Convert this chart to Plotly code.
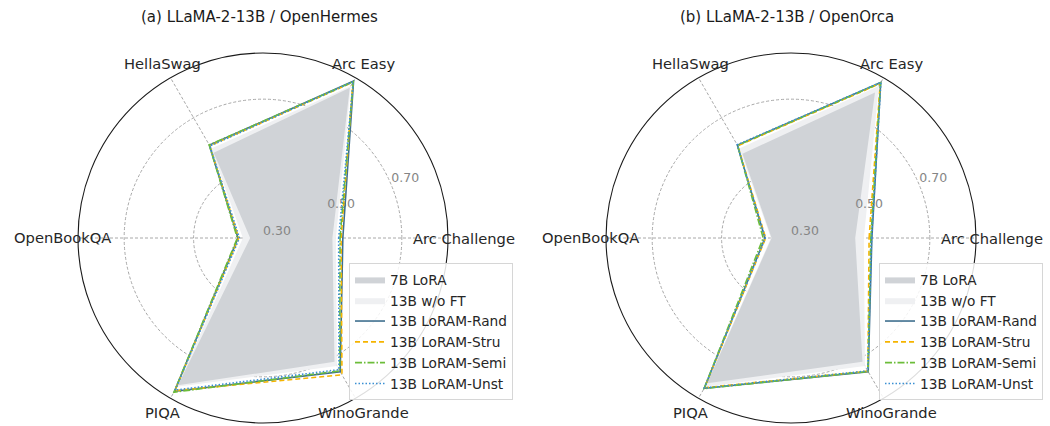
import math
import plotly.graph_objects as go

categories = ["Arc Challenge", "Arc Easy", "HellaSwag", "OpenBookQA", "PIQA", "WinoGrande"]
radial_ticks = [0.30, 0.50, 0.70]
radial_tick_labels = ["0.30", "0.50", "0.70"]
series_names = ["7B LoRA", "13B w/o FT", "13B LoRAM-Rand", "13B LoRAM-Stru",
                "13B LoRAM-Semi", "13B LoRAM-Unst"]
titles = ["(a) LLaMA-2-13B / OpenHermes", "(b) LLaMA-2-13B / OpenOrca"]

# (a) OpenHermes
a_7b_lora = [0.500, 0.800, 0.584, 0.337, 0.790, 0.712]
a_13b_noft = [0.510, 0.806, 0.598, 0.358, 0.795, 0.726]
a_rand = [0.530, 0.822, 0.609, 0.372, 0.810, 0.745]
a_stru = [0.525, 0.818, 0.607, 0.370, 0.808, 0.755]
a_semi = [0.522, 0.820, 0.610, 0.374, 0.813, 0.742]
a_unst = [0.518, 0.820, 0.606, 0.368, 0.806, 0.738]

# (b) OpenOrca
b_7b_lora = [0.485, 0.784, 0.580, 0.356, 0.783, 0.712]
b_13b_noft = [0.510, 0.806, 0.598, 0.358, 0.795, 0.726]
b_rand = [0.533, 0.817, 0.609, 0.375, 0.800, 0.745]
b_stru = [0.525, 0.814, 0.607, 0.373, 0.798, 0.743]
b_semi = [0.530, 0.816, 0.608, 0.380, 0.801, 0.744]
b_unst = [0.532, 0.818, 0.610, 0.374, 0.799, 0.742]

panels = [
    [a_7b_lora, a_13b_noft, a_rand, a_stru, a_semi, a_unst],
    [b_7b_lora, b_13b_noft, b_rand, b_stru, b_semi, b_unst],
]

FONT = "DejaVu Sans"
n = len(categories)
angles = [i * 360.0 / n for i in range(n)]
R_RANGE = [0.3, 0.833]

line_styles = [
    dict(color="#3f6f8e", dash="solid"),
    dict(color="#f5b400", dash="5px,3px"),
    dict(color="#6cbd3a", dash="7px,2px,1.5px,2px"),
    dict(color="#3a8fd3", dash="1.5px,2px"),
]

fig = go.Figure()

for p, data in enumerate(panels):
    sub = "polar" if p == 0 else "polar2"
    leg = "legend" if p == 0 else "legend2"
    theta = angles + [angles[0]]

    def closed(v):
        return list(v) + [v[0]]

    fig.add_trace(go.Scatterpolar(
        r=closed(data[1]), theta=theta, subplot=sub, legend=leg,
        name=series_names[1], mode="lines", fill="toself",
        fillcolor="#eff0f2", line=dict(color="#eff0f2", width=0),
        legendrank=2, hoverinfo="skip"))
    fig.add_trace(go.Scatterpolar(
        r=closed(data[0]), theta=theta, subplot=sub, legend=leg,
        name=series_names[0], mode="lines", fill="toself",
        fillcolor="#d0d3d7", line=dict(color="#d0d3d7", width=0),
        legendrank=1, hoverinfo="skip"))

    fig.add_trace(go.Scatterpolar(
        r=radial_ticks, theta=[22.5] * len(radial_ticks), subplot=sub,
        mode="text", text=radial_tick_labels, textposition="top right",
        textfont=dict(family=FONT, size=12.5, color="#858585"),
        showlegend=False, hoverinfo="skip", cliponaxis=False))

    for k in range(4):
        fig.add_trace(go.Scatterpolar(
            r=closed(data[2 + k]), theta=theta, subplot=sub, legend=leg,
            name=series_names[2 + k], mode="lines",
            line=dict(color=line_styles[k]["color"], dash=line_styles[k]["dash"], width=1.6),
            legendrank=3 + k, hoverinfo="skip"))

W, H = 1050, 426
rad = 185
label_rad = 201
centers = [(263, 238), (791, 238)]


def polar_layout(cx, cy):
    return dict(
        domain=dict(x=[(cx - rad) / W, (cx + rad) / W],
                    y=[(H - cy - rad) / H, (H - cy + rad) / H]),
        bgcolor="white",
        radialaxis=dict(range=R_RANGE, tickvals=radial_ticks, showticklabels=False,
                        ticks="", showline=False, showgrid=True,
                        gridcolor="#a8a8a8", gridwidth=0.8, griddash="3px,2px",
                        angle=22.5),
        angularaxis=dict(tickmode="array", tickvals=angles, showticklabels=False,
                         ticks="", rotation=0, direction="counterclockwise",
                         showline=True, linecolor="#1a1a1a", linewidth=1.1,
                         showgrid=True, gridcolor="#a8a8a8", gridwidth=0.8,
                         griddash="3px,2px"),
    )


legend_common = dict(
    font=dict(family=FONT, size=13.7, color="#262626"),
    bgcolor="rgba(255,255,255,0.85)", bordercolor="#d6d6d6", borderwidth=1,
    xanchor="left", yanchor="top", itemwidth=30, tracegroupgap=0,
)

annotations = []
for i in range(2):
    cx, cy = centers[i]
    annotations.append(dict(
        text=titles[i], x=(cx - 4) / W, y=(H - 17) / H,
        xref="paper", yref="paper", xanchor="center", yanchor="middle",
        showarrow=False, font=dict(family=FONT, size=15, color="#1a1a1a")))
    for cat, ang in zip(categories, angles):
        px = cx + label_rad * math.cos(math.radians(ang))
        py = cy - label_rad * math.sin(math.radians(ang))
        annotations.append(dict(
            text=cat, x=px / W, y=(H - py) / H, xref="paper", yref="paper",
            xanchor="center", yanchor="middle", showarrow=False,
            font=dict(family=FONT, size=14.7, color="#262626")))

fig.update_layout(
    width=W, height=H,
    margin=dict(l=0, r=0, t=0, b=0),
    paper_bgcolor="white",
    font=dict(family=FONT),
    polar=polar_layout(*centers[0]),
    polar2=polar_layout(*centers[1]),
    legend=dict(x=349 / W, y=(H - 263) / H, **legend_common),
    legend2=dict(x=879 / W, y=(H - 263) / H, **legend_common),
    annotations=annotations,
)

fig.write_html("out.html", config={"displayModeBar": False},
               post_script="document.body.style.margin='0';document.body.style.padding='0';")
